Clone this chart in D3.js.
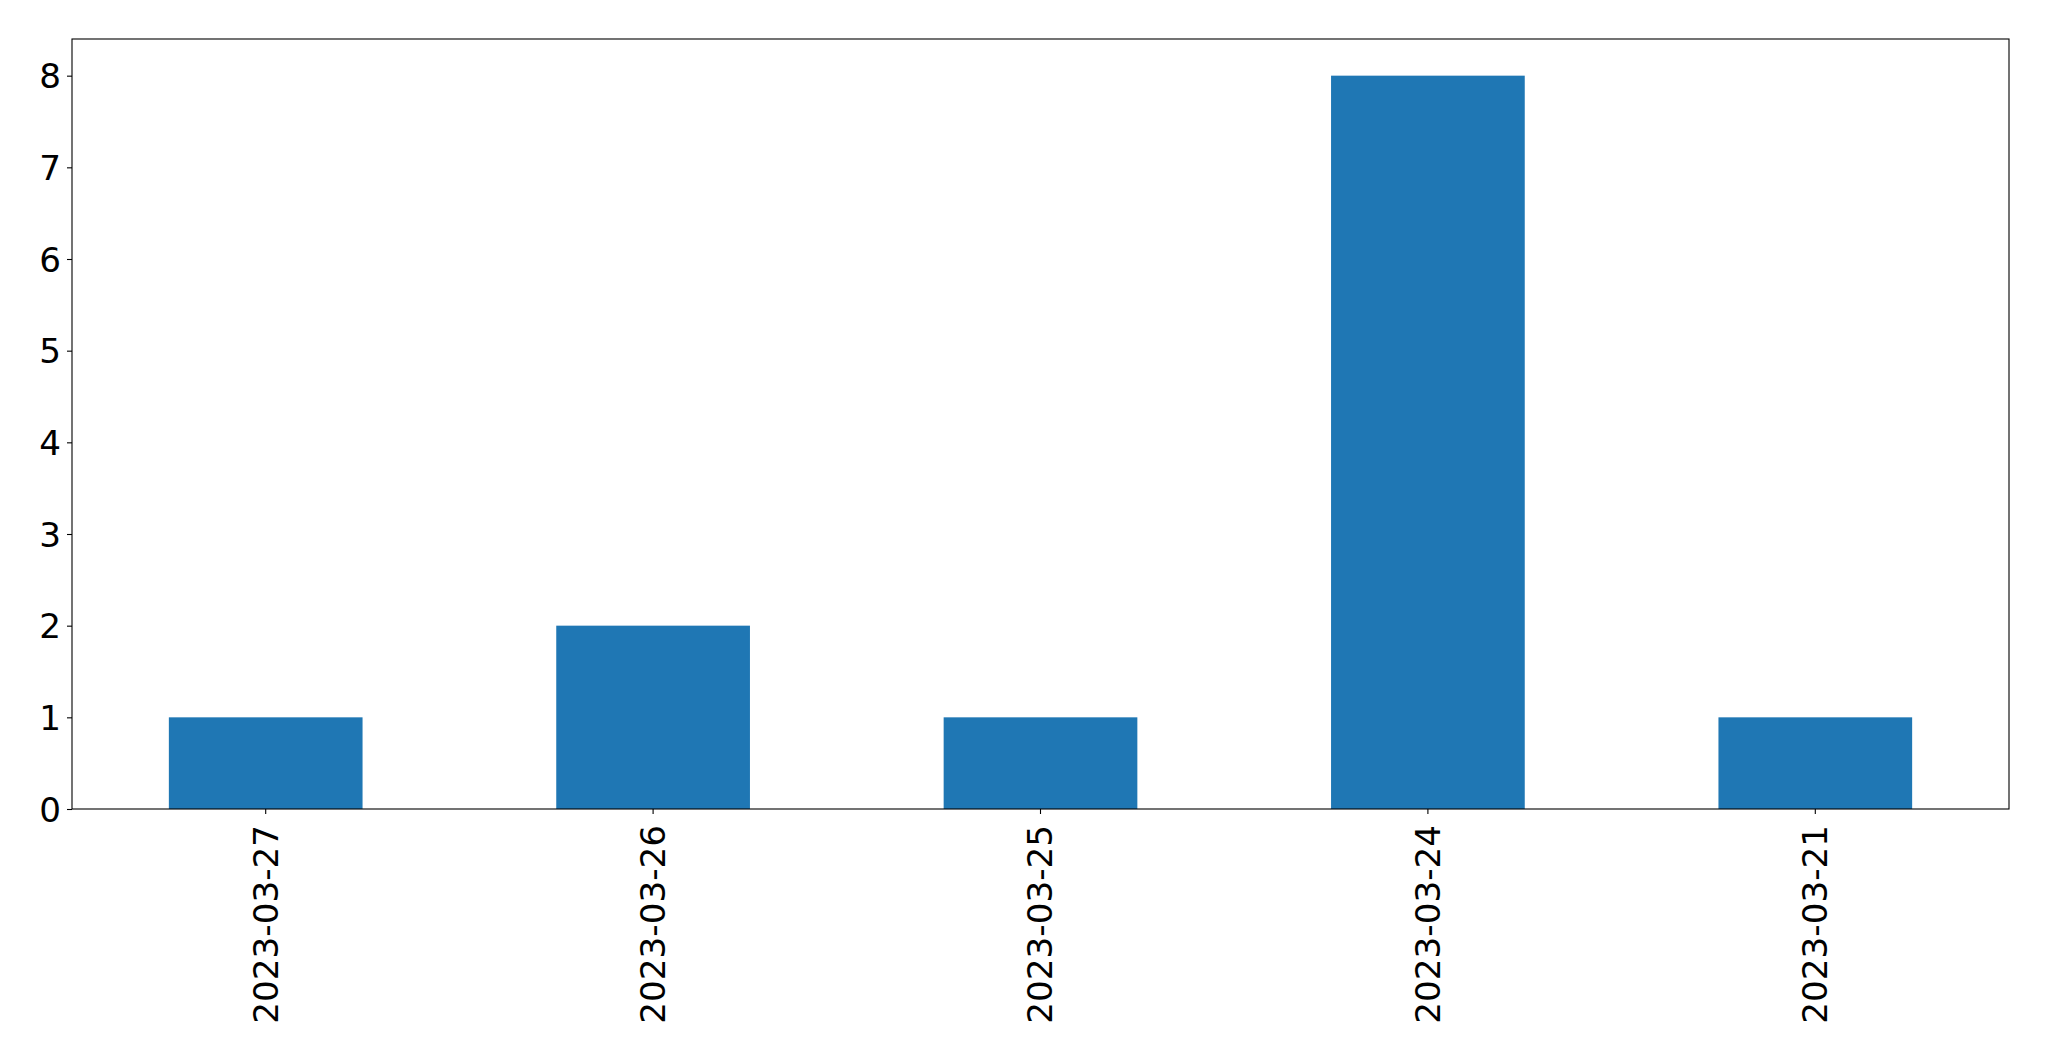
<!DOCTYPE html>
<html><head><meta charset="utf-8">
<script src="https://cdn.jsdelivr.net/npm/d3@7"></script>
<style>body{margin:0;background:#fff}svg{display:block}text{font-family:"DejaVu Sans",sans-serif}</style>
</head><body>
<script>
const categories = ["2023-03-27","2023-03-26","2023-03-25","2023-03-24","2023-03-21"];
const values = [1,2,1,8,1];
const yTicks = [0,1,2,3,4,5,6,7,8];

const W=2049,H=1061;
const m={left:72,right:2009,top:39,bottom:809};
const svg=d3.select("body").append("svg").attr("width",W).attr("height",H);

const x=d3.scaleBand().domain(categories).range([m.left,m.right]).paddingInner(0.5).paddingOuter(0.25);
const y=d3.scaleLinear().domain([0,8.4]).range([m.bottom,m.top]);

svg.append("g").selectAll("rect").data(values).join("rect")
  .attr("x",(d,i)=>x(categories[i])).attr("width",x.bandwidth())
  .attr("y",d=>y(d)).attr("height",d=>y(0)-y(d)).attr("fill","#1f77b4");

const fs="34.2px";
const ya=svg.append("g").attr("transform",`translate(${m.left},0)`)
  .call(d3.axisLeft(y).tickValues(yTicks).tickFormat(d3.format("d")).tickSizeInner(5).tickSizeOuter(0).tickPadding(6));
ya.select(".domain").remove();
ya.selectAll("text").style("font-size",fs).attr("fill","#000").attr("dy","0.36em");
ya.selectAll("line").attr("stroke","#000").attr("stroke-width",1.1);

const xa=svg.append("g").attr("transform",`translate(0,${m.bottom})`)
  .call(d3.axisBottom(x).tickSizeInner(5).tickSizeOuter(0).tickPadding(12));
xa.select(".domain").remove();
xa.selectAll("line").attr("stroke","#000").attr("stroke-width",1.1);
xa.selectAll("text").style("font-size",fs).attr("fill","#000")
  .attr("text-anchor","end").attr("transform","rotate(-90)")
  .attr("x",-16).attr("y",0).attr("dy","0.35em");

svg.append("rect").attr("x",m.left).attr("y",m.top).attr("width",m.right-m.left).attr("height",m.bottom-m.top)
  .attr("fill","none").attr("stroke","#000").attr("stroke-width",1.1);
</script>
</body></html>
